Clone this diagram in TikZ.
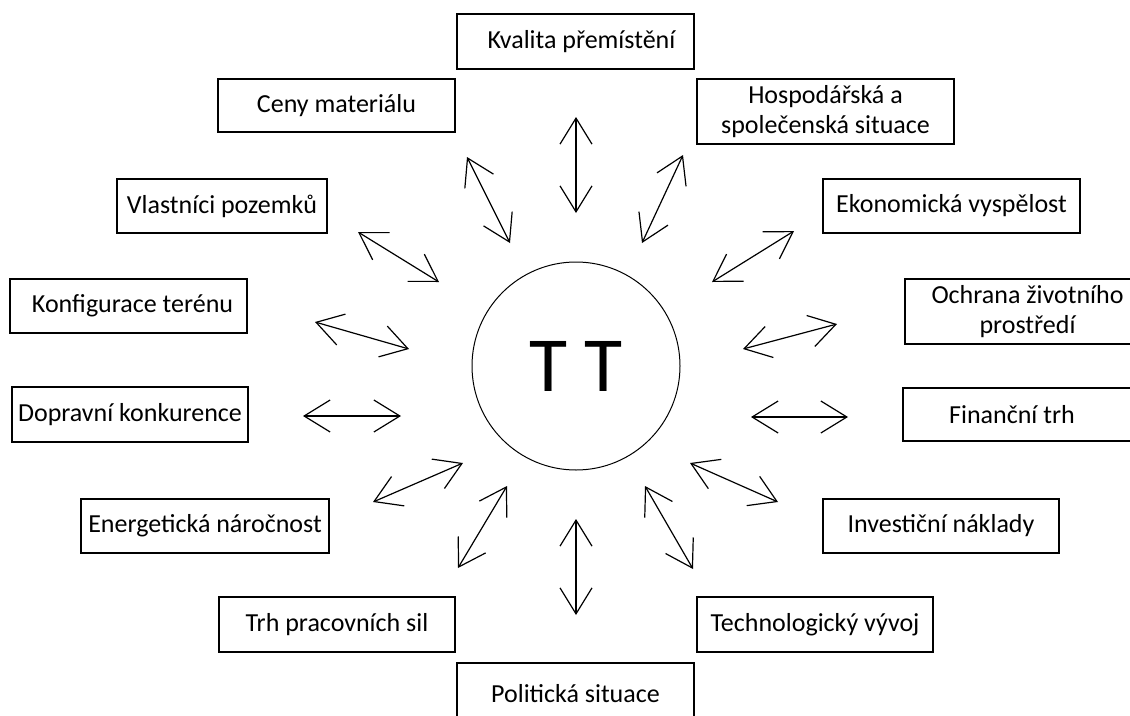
\documentclass[tikz,border=0pt]{standalone}
\usepackage{fontspec}
\setmainfont{Carlito}
\usetikzlibrary{arrows.meta}
\tikzset{
  factor/.style={draw, line width=1.2pt, inner sep=0pt, align=center,
    font=\fontsize{26}{30}\selectfont},
  both/.style={line width=1.2pt,
    {Straight Barb[length=26pt,width=32pt]}-{Straight Barb[length=26pt,width=32pt]}},
}
\begin{document}
\begin{tikzpicture}[x=1pt, y=-1pt]
  \useasboundingbox (0, 0) rectangle (1130, 715);
  \node [draw, circle, line width=1pt, minimum size=208pt, inner sep=0pt,
    font=\fontsize{78}{80}\selectfont] (TT) at (576, 366) {T T};
  \node [factor, minimum width=237pt, minimum height=55pt] (KP) at (575.5, 41.5) {\hspace{12pt}Kvalita přemístění};
  \node [factor, minimum width=237pt, minimum height=53pt] (CM) at (336.5, 105.5) {Ceny materiálu};
  \node [factor, minimum width=257pt, minimum height=65pt] (HS) at (825.5, 111.5) {Hospodářská a\\společenská situace};
  \node [factor, minimum width=210pt, minimum height=54pt] (VP) at (222, 206) {Vlastníci pozemků};
  \node [factor, minimum width=257pt, minimum height=54pt] (EV) at (951.5, 206) {Ekonomická vyspělost};
  \node [factor, minimum width=237pt, minimum height=54pt] (KT) at (128.5, 306) {\hspace{8pt}Konfigurace terénu};
  \node [factor, minimum width=245pt, minimum height=65pt] (OZ) at (1027.5, 311.5) {Ochrana životního\\prostředí};
  \node [factor, minimum width=236pt, minimum height=55pt] (DK) at (130, 414.5) {Dopravní konkurence};
  \node [factor, minimum width=232pt, minimum height=53pt] (FT) at (1019, 414.5) {Finanční trh\hspace{14pt}};
  \node [factor, minimum width=248pt, minimum height=54pt] (EN) at (205, 526) {Energetická náročnost};
  \node [factor, minimum width=236pt, minimum height=54pt] (IN) at (941, 526) {Investiční náklady};
  \node [factor, minimum width=236pt, minimum height=55pt] (TP) at (337, 624.5) {Trh pracovních sil};
  \node [factor, minimum width=236pt, minimum height=55pt] (TV) at (815, 624.5) {Technologický vývoj};
  \node [factor, minimum width=237pt, minimum height=62pt] (PS) at (575.5, 694) {Politická situace};
  % arrow ends
  \coordinate (KP1) at (576, 117);  \coordinate (KP2) at (576, 213);
  \coordinate (CM1) at (467, 157);  \coordinate (CM2) at (510, 243);
  \coordinate (HS1) at (683, 155);  \coordinate (HS2) at (642, 243);
  \coordinate (VP1) at (358, 232);  \coordinate (VP2) at (439, 282);
  \coordinate (EV1) at (794, 231);  \coordinate (EV2) at (712, 282);
  \coordinate (KT1) at (315, 322);  \coordinate (KT2) at (409, 349);
  \coordinate (OZ1) at (837, 324);  \coordinate (OZ2) at (743, 349);
  \coordinate (DK1) at (303, 416);  \coordinate (DK2) at (401, 416);
  \coordinate (FT1) at (848, 417);  \coordinate (FT2) at (751, 417);
  \coordinate (EN1) at (373, 502);  \coordinate (EN2) at (463, 463);
  \coordinate (IN1) at (778, 502);  \coordinate (IN2) at (690, 463);
  \coordinate (TP1) at (458, 568);  \coordinate (TP2) at (507, 486);
  \coordinate (TV1) at (693, 569);  \coordinate (TV2) at (645, 486);
  \coordinate (PS1) at (576, 615);  \coordinate (PS2) at (576, 519);
  \draw [both] (KP1) -- (KP2);
  \draw [both] (CM1) -- (CM2);
  \draw [both] (HS1) -- (HS2);
  \draw [both] (VP1) -- (VP2);
  \draw [both] (EV1) -- (EV2);
  \draw [both] (KT1) -- (KT2);
  \draw [both] (OZ1) -- (OZ2);
  \draw [both] (DK1) -- (DK2);
  \draw [both] (FT1) -- (FT2);
  \draw [both] (EN1) -- (EN2);
  \draw [both] (IN1) -- (IN2);
  \draw [both] (TP1) -- (TP2);
  \draw [both] (TV1) -- (TV2);
  \draw [both] (PS1) -- (PS2);
\end{tikzpicture}
\end{document}
